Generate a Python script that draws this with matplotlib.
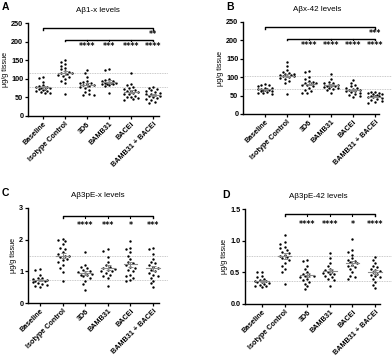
import matplotlib

matplotlib.use("Agg")
import matplotlib.pyplot as plt
import numpy as np

plt.rcParams["font.family"] = ["Liberation Sans", "DejaVu Sans"]
plt.rcParams["font.weight"] = "bold"

groups = ["Baseline", "Isotype Control", "3D6", "BAMB31", "BACEi", "BAMB31 + BACEi"]

a_vals = [
    [105, 103, 92, 82, 80, 78, 77, 76, 75, 73, 72, 70, 68, 66, 65, 63, 62],
    [150, 145, 140, 135, 130, 125, 120, 118, 116, 115, 112, 110, 108, 105, 100, 95, 90, 58],
    [123, 115, 105, 95, 92, 90, 88, 85, 83, 82, 80, 78, 75, 70, 65, 60, 57, 56],
    [125, 124, 100, 97, 95, 93, 92, 90, 89, 88, 87, 86, 85, 83, 80, 62],
    [115, 85, 82, 78, 75, 72, 70, 68, 66, 65, 63, 60, 58, 55, 52, 50, 48, 45, 44],
    [77, 75, 72, 70, 68, 65, 63, 60, 58, 56, 55, 53, 50, 48, 45, 42, 38, 35],
]
b_vals = [
    [82, 80, 78, 75, 72, 70, 69, 68, 67, 66, 65, 64, 63, 62, 60, 58, 56, 55],
    [140, 130, 120, 115, 112, 110, 108, 106, 105, 104, 103, 102, 100, 98, 95, 90, 85, 53],
    [118, 115, 100, 95, 90, 88, 85, 83, 82, 80, 78, 75, 70, 65, 62, 58, 57],
    [110, 95, 88, 85, 83, 80, 79, 78, 77, 76, 75, 74, 72, 70, 68, 66, 57],
    [93, 85, 80, 75, 72, 70, 68, 66, 65, 63, 62, 60, 58, 55, 52, 50, 45],
    [60, 59, 58, 57, 55, 53, 52, 50, 49, 48, 46, 45, 43, 40, 38, 35, 32, 30],
]
c_vals = [
    [1.07, 1.03, 0.9, 0.8, 0.78, 0.76, 0.74, 0.72, 0.7, 0.68, 0.66, 0.64, 0.6, 0.58, 0.55, 0.5],
    [2.03, 2.0, 1.95, 1.85, 1.75, 1.7, 1.6, 1.55, 1.5, 1.48, 1.45, 1.4, 1.35, 1.3, 1.2, 1.1, 0.97, 0.68],
    [1.6, 1.2, 1.15, 1.1, 1.05, 1.0, 0.98, 0.95, 0.92, 0.9, 0.88, 0.85, 0.8, 0.7, 0.6, 0.42],
    [1.7, 1.65, 1.45, 1.3, 1.2, 1.15, 1.1, 1.08, 1.05, 1.02, 1.0, 0.95, 0.9, 0.85, 0.8, 0.55],
    [1.97, 1.75, 1.7, 1.6, 1.5, 1.4, 1.3, 1.25, 1.2, 1.15, 1.1, 1.05, 1.0, 0.9, 0.85, 0.8, 0.72, 0.7],
    [1.75, 1.7, 1.55, 1.4, 1.3, 1.25, 1.2, 1.15, 1.1, 1.05, 1.0, 0.95, 0.9, 0.85, 0.8, 0.7, 0.62, 0.52],
]
d_vals = [
    [0.51, 0.5, 0.45, 0.42, 0.4, 0.38, 0.37, 0.36, 0.35, 0.34, 0.33, 0.32, 0.3, 0.29, 0.28, 0.27],
    [1.09, 0.98, 0.95, 0.9, 0.88, 0.85, 0.82, 0.8, 0.78, 0.76, 0.74, 0.72, 0.7, 0.65, 0.6, 0.55, 0.5, 0.31],
    [0.7, 0.68, 0.6, 0.55, 0.5, 0.48, 0.46, 0.45, 0.44, 0.42, 0.4, 0.38, 0.35, 0.32, 0.28, 0.23],
    [0.8, 0.72, 0.65, 0.6, 0.56, 0.54, 0.52, 0.5, 0.49, 0.48, 0.47, 0.45, 0.42, 0.4, 0.38, 0.29],
    [1.02, 0.85, 0.82, 0.78, 0.72, 0.7, 0.68, 0.66, 0.64, 0.62, 0.6, 0.58, 0.55, 0.5, 0.45, 0.42, 0.4],
    [0.75, 0.7, 0.65, 0.6, 0.58, 0.56, 0.54, 0.52, 0.5, 0.48, 0.46, 0.44, 0.42, 0.4, 0.35, 0.3, 0.25],
]

a_stars = ["****", "***", "****", "****"]
b_stars = ["****", "****", "****", "****"]
c_stars = ["****", "***", "*", "***"]
d_stars = ["****", "****", "*", "****"]

W, H = 392, 357
fig = plt.figure(figsize=(W / 100, H / 100), dpi=100)


def swarm(vals, xpx, ypx, diam=3.2, step=0.1, maxoff=0.36):
    order = np.argsort(vals)[::-1]
    placed = []
    xs = np.zeros(len(vals))
    cands = [0.0]
    k = 1
    while k * step <= maxoff + 1e-9:
        cands += [-k * step, k * step]
        k += 1
    for i in order:
        y = vals[i]
        best, best_d = 0.0, -1
        for off in cands:
            dmin = min([np.hypot((off - px) * xpx, (y - py) * ypx) for px, py in placed] or [99])
            if dmin >= diam:
                best = off
                break
            if dmin > best_d:
                best, best_d = off, dmin
        placed.append((best, y))
        xs[i] = best
    return xs


def panel(rect_px, xlim, xend, ylim, yticks, ytl, data, title, letter, letter_xy,
          stars, bar2_y, star_y, bar1_y=None, star1=None, star1_y=None):
    l, t, r, b = rect_px
    ax = fig.add_axes([l / W, 1 - b / H, (r - l) / W, (b - t) / H])
    ax.set_xlim(*xlim)
    ax.set_ylim(*ylim)
    xpx = (r - l) / (xlim[1] - xlim[0])
    ypx = (b - t) / (ylim[1] - ylim[0])
    for s in ["top", "right"]:
        ax.spines[s].set_visible(False)
    ax.spines["bottom"].set_bounds(xlim[0], xend)
    ax.spines["left"].set_bounds(ylim[0], yticks[-1])
    for s in ["left", "bottom"]:
        ax.spines[s].set_linewidth(1.0)
    ax.tick_params(width=0.9, length=2.2, pad=1.2, labelsize=5.2)
    ax.set_xticks(range(len(groups)))
    ax.set_xticklabels(groups, rotation=45, ha="right", rotation_mode="anchor", fontsize=5.2)
    ax.set_yticks(yticks)
    ax.set_yticklabels(ytl, fontsize=5.2)
    ax.set_ylabel("μg/g tissue", fontsize=5.2, labelpad=1.5)
    ax.set_title(title, fontsize=5.8, pad=8)
    fig.text(letter_xy[0] / W, 1 - letter_xy[1] / H, letter, fontsize=7.5,
             fontweight="bold", va="top")

    means = [np.mean(v) for v in data]
    for m in means[:2]:
        ax.axhline(m, color="#b8b8b8", lw=0.6, ls=(0, (1, 1)), zorder=0, clip_on=False)

    for i, v in enumerate(data):
        v = np.array(v, dtype=float)
        xs = swarm(v, xpx, ypx)
        ax.scatter(i + xs, v, s=3.0, color="black", lw=0, zorder=3)
        m = v.mean()
        sem = v.std(ddof=1) / np.sqrt(len(v))
        ax.plot([i - 0.3, i + 0.3], [m, m], color="#8a8a8a", lw=0.8, zorder=4)
        ax.errorbar(i, m, yerr=sem, color="#8a8a8a", lw=0.7, capsize=1.8,
                    capthick=0.7, zorder=4)

    tick = (ylim[1] - ylim[0]) * 0.018
    star_font = dict(ha="center", va="center", fontsize=5.6, family="DejaVu Sans",
                     fontweight="bold")
    if bar1_y is not None:
        ax.plot([0, 0, 5, 5], [bar1_y - tick, bar1_y, bar1_y, bar1_y - tick],
                color="black", lw=1.0, clip_on=False)
        ax.text(5, star1_y, star1, **star_font)
    ax.plot([1, 1, 5, 5], [bar2_y - tick, bar2_y, bar2_y, bar2_y - tick],
            color="black", lw=1.0, clip_on=False)
    for j in range(2, 5):
        ax.plot([j, j], [bar2_y, bar2_y - tick], color="black", lw=0.8, clip_on=False)
    for j, st in enumerate(stars):
        ax.text(j + 2, star_y, st, **star_font)
    return ax


panel((28, 23, 168, 116), (-0.68, 5.68), 5.25, (0, 250), [0, 50, 100, 150, 200, 250],
      ["0", "50", "100", "150", "200", "250"], a_vals, "Aβ1-x levels", "A", (2, 2),
      a_stars, 205, 186, bar1_y=236, star1="**", star1_y=218)
panel((243, 22, 392, 114), (-1.0, 5.77), 5.18, (0, 250), [0, 50, 100, 150, 200, 250],
      ["0", "50", "100", "150", "200", "250"], b_vals, "Aβx-42 levels", "B", (226, 2),
      b_stars, 205, 186, bar1_y=236, star1="***", star1_y=218)
panel((28, 208, 168, 303), (-0.53, 5.66), 5.25, (0, 3), [0, 1, 2, 3],
      ["0", "1", "2", "3"], c_vals, "Aβ3pE-x levels", "C", (2, 188),
      c_stars, 2.75, 2.44)
panel((245, 209, 392, 304), (-0.75, 5.75), 5.2, (0, 1.5), [0.0, 0.5, 1.0, 1.5],
      ["0.0", "0.5", "1.0", "1.5"], d_vals, "Aβ3pE-42 levels", "D", (222, 190),
      d_stars, 1.42, 1.26)

fig.savefig("out.png", dpi=100)
